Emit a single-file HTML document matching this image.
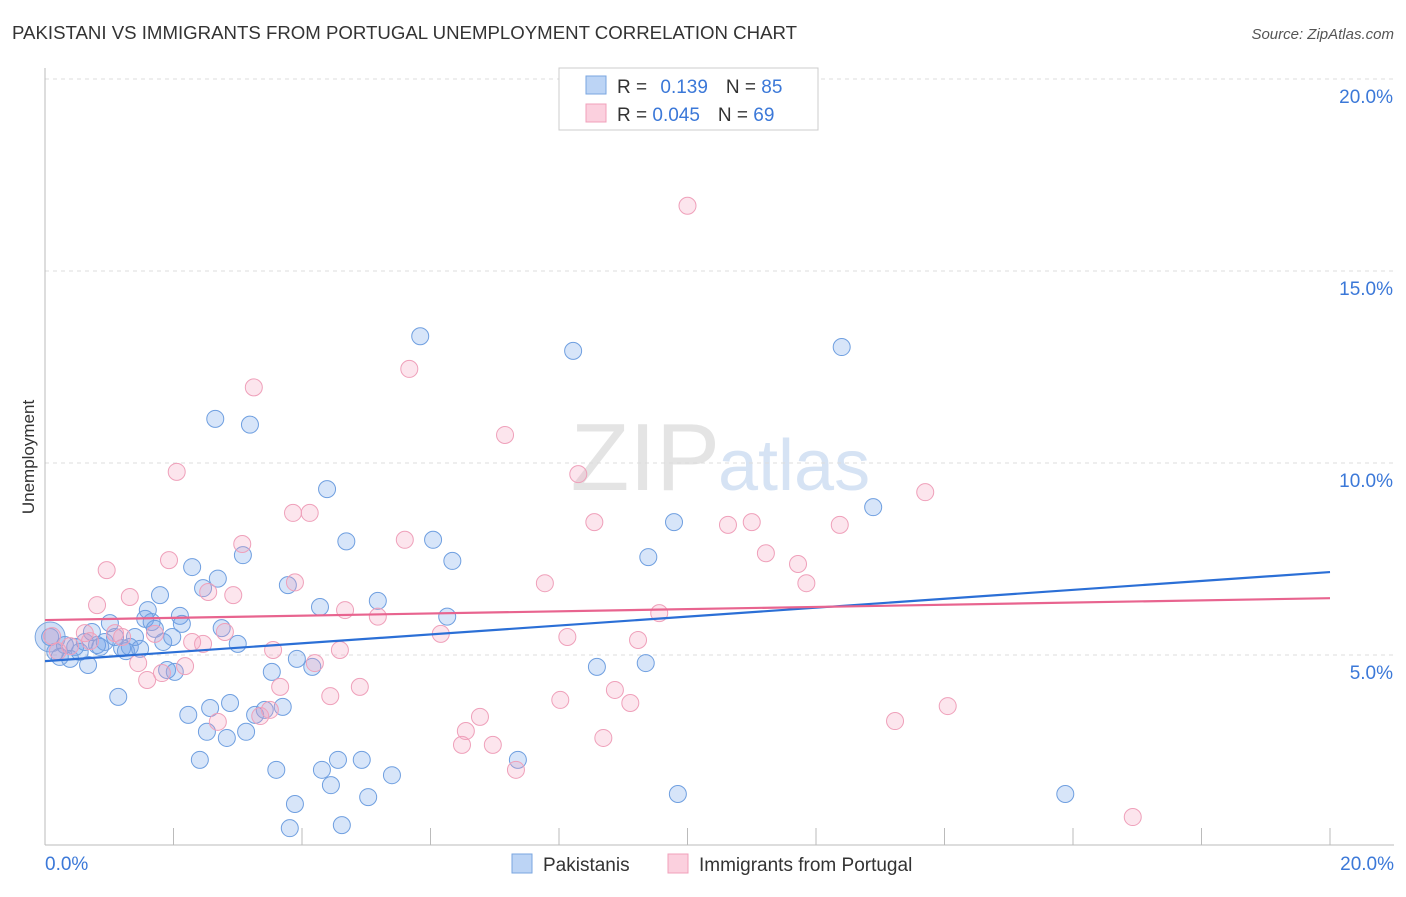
<!DOCTYPE html>
<html><head><meta charset="utf-8"><style>
body{margin:0;background:#fff;font-family:"Liberation Sans",sans-serif;}
svg text{font-family:"Liberation Sans",sans-serif;}
</style></head><body>
<svg id="chart" width="1406" height="892">
<text x="12" y="39" font-size="18" fill="#333" textLength="785" lengthAdjust="spacingAndGlyphs">PAKISTANI VS IMMIGRANTS FROM PORTUGAL UNEMPLOYMENT CORRELATION CHART</text>
<text x="1394" y="39" font-size="15" fill="#555" font-style="italic" text-anchor="end">Source: ZipAtlas.com</text>
<text x="34" y="457" font-size="17" fill="#333" text-anchor="middle" transform="rotate(-90 34 457)">Unemployment</text>
<text x="720" y="490" font-size="96" fill="#e4e4e4" text-anchor="end" font-family="Liberation Serif">ZIP</text>
<text x="718" y="490" font-size="72" fill="#d6e3f4">atlas</text>
<g id="grid"></g><g id="pts"></g><g id="lines"></g>
<g>
<rect x="559" y="68" width="259" height="62" fill="#fff" stroke="#ccc"/>
<rect x="586" y="76" width="20" height="18" fill="#bcd4f5" stroke="#7aa6e0"/>
<rect x="586" y="104" width="20" height="18" fill="#fbd0de" stroke="#f0a0bb"/>
<text x="617" y="93" font-size="19" fill="#333">R = <tspan fill="#3b78d8" dx="8">0.139</tspan><tspan dx="18" fill="#333">N = </tspan><tspan fill="#3b78d8">85</tspan></text>
<text x="617" y="121" font-size="19" fill="#333">R = <tspan fill="#3b78d8">0.045</tspan><tspan dx="18" fill="#333">N = </tspan><tspan fill="#3b78d8">69</tspan></text>
</g>
<g>
<rect x="512" y="854" width="20" height="19" fill="#bcd4f5" stroke="#7aa6e0"/>
<text x="543" y="871" font-size="19" fill="#333">Pakistanis</text>
<rect x="668" y="854" width="20" height="19" fill="#fbd0de" stroke="#f0a0bb"/>
<text x="699" y="871" font-size="19" fill="#333">Immigrants from Portugal</text>
</g>
</svg>
<script>
const yTicks=[5,10,15,20];
const xEdgeLabels=["0.0%","20.0%"];
const blueX=[0.08,0.16,0.23,0.31,0.39,0.47,0.54,0.62,0.67,0.73,0.81,0.86,0.93,1.01,1.09,1.14,1.20,1.26,1.32,1.40,1.48,1.56,1.60,1.66,1.71,1.79,1.84,1.90,1.98,2.02,2.10,2.13,2.23,2.29,2.41,2.46,2.52,2.57,2.65,2.69,2.75,2.83,2.88,3.00,3.08,3.13,3.19,3.27,3.42,3.53,3.60,3.70,3.78,3.81,3.89,3.92,4.16,4.28,4.31,4.39,4.45,4.56,4.62,4.69,4.93,5.03,5.18,5.40,5.84,6.04,6.26,6.34,7.36,8.22,8.59,9.35,9.39,9.79,9.85,12.40,12.89,15.88];
const blueY=[5.47,5.08,4.95,5.26,4.90,5.21,5.08,5.34,4.74,5.60,5.26,5.21,5.34,5.83,5.47,3.91,5.18,5.10,5.21,5.47,5.16,5.94,6.17,5.86,5.68,6.56,5.34,4.61,5.47,4.56,6.02,5.81,3.44,7.29,2.27,6.74,3.00,3.62,11.15,6.99,5.70,2.84,3.75,5.29,7.60,3.00,11.0,3.44,3.57,4.56,2.01,3.65,6.82,0.49,1.12,4.90,4.69,6.25,2.01,9.32,1.61,2.27,0.57,7.96,2.27,1.30,6.41,1.87,13.3,8.00,6.0,7.45,2.27,12.92,4.69,4.79,7.55,8.46,1.38,13.02,8.85,1.38];
const pinkX=[0.11,0.20,0.39,0.62,0.70,0.81,0.96,1.09,1.20,1.32,1.45,1.59,1.71,1.82,1.93,2.05,2.18,2.29,2.46,2.54,2.69,2.80,2.93,3.07,3.25,3.35,3.50,3.55,3.66,3.86,3.89,4.12,4.20,4.44,4.59,4.67,4.90,5.18,5.60,5.67,6.16,6.49,6.55,6.77,6.97,7.16,7.33,7.78,8.02,8.13,8.30,8.55,8.69,8.87,9.11,9.23,9.56,10.0,10.63,11.0,11.22,11.72,11.85,12.37,13.23,13.70,14.05,16.93];
const pinkY=[5.49,5.10,5.23,5.57,5.36,6.30,7.21,5.57,5.47,6.51,4.79,4.35,5.55,4.53,7.47,9.77,4.71,5.34,5.29,6.64,3.26,5.60,6.56,7.89,11.97,3.41,3.57,5.13,4.17,8.70,6.89,8.70,4.79,3.93,5.13,6.17,4.17,6.0,8.0,12.45,5.55,2.66,3.02,3.39,2.66,10.73,2.01,6.87,3.83,5.47,9.71,8.46,2.84,4.09,3.75,5.39,6.09,16.7,8.39,8.46,7.65,7.37,6.87,8.39,3.28,9.24,3.67,0.78];
const blueTrend=[4.84,7.16];
const pinkTrend=[5.91,6.48];
const sx=v=>45+v*64.25, sy=v=>847-v*38.4;
const NS="http://www.w3.org/2000/svg";
function mk(t,a,p){const e=document.createElementNS(NS,t);for(const k in a)e.setAttribute(k,a[k]);p.appendChild(e);return e;}
const grid=document.getElementById('grid');
yTicks.forEach(t=>{
 const l=mk('line',{x1:45,x2:1394,y1:sy(t),y2:sy(t),stroke:'#ddd','stroke-dasharray':'4,4'},grid);
 
 
 const tx=mk('text',{x:1393,y:sy(t)+24,'font-size':19,fill:'#3b78d8','text-anchor':'end'},grid);
 tx.textContent=t.toFixed(1)+'%';
 
 
});
const ax=mk('line',{x1:45,x2:45,y1:68,y2:845,stroke:'#bbb'},grid);


const bx=mk('line',{x1:45,x2:1394,y1:845,y2:845,stroke:'#bbb'},grid);


for(let i=1;i<=10;i++){
 const t=mk('line',{x1:sx(i*2),x2:sx(i*2),y1:828,y2:845,stroke:'#bbb'},grid);
 
 
}
[[0,'start',45],[20,'end',1394]].forEach((d,i)=>{
 const t=mk('text',{x:d[2],y:870,'font-size':19,fill:'#3b78d8','text-anchor':d[1]},grid);
 t.textContent=xEdgeLabels[i];
 
 
});
const pts=document.getElementById('pts');
const big=mk('circle',{cx:sx(0.08),cy:sy(5.47),r:15,fill:'rgba(100,150,230,0.3)',stroke:'#7aa6e0'},pts);


blueX.forEach((x,i)=>{
 const c=mk('circle',{cx:sx(x),cy:sy(blueY[i]),r:8.5,fill:'rgba(110,160,235,0.28)',stroke:'#6f9fe0','stroke-width':1},pts);
 
 
});
pinkX.forEach((x,i)=>{
 const c=mk('circle',{cx:sx(x),cy:sy(pinkY[i]),r:8.5,fill:'rgba(245,160,190,0.28)',stroke:'#efa0ba','stroke-width':1},pts);
 
 
});
const lines=document.getElementById('lines');
const bl=mk('line',{x1:sx(0),x2:sx(20),y1:sy(blueTrend[0]),y2:sy(blueTrend[1]),stroke:'#2b6fd6','stroke-width':2.2},lines);


const pl=mk('line',{x1:sx(0),x2:sx(20),y1:sy(pinkTrend[0]),y2:sy(pinkTrend[1]),stroke:'#e8648f','stroke-width':2.2},lines);


</script>
</body></html>
